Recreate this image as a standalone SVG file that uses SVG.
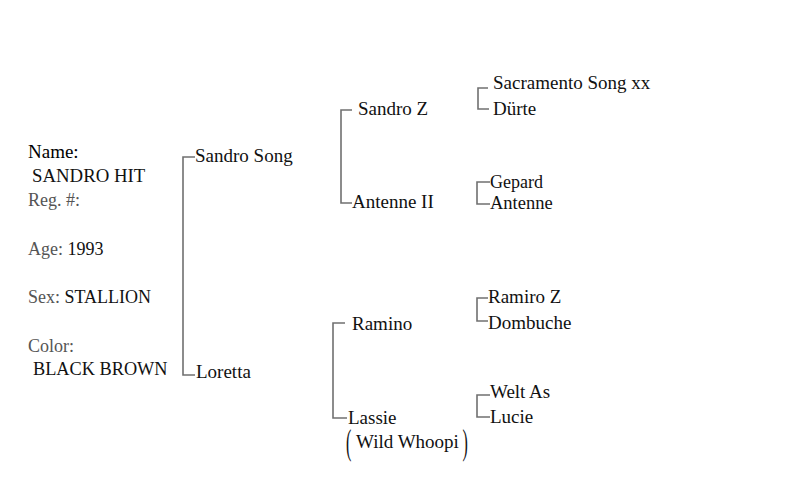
<svg xmlns="http://www.w3.org/2000/svg" width="808" height="491" viewBox="0 0 808 491">
<style>
text{font-family:"Liberation Serif","Times New Roman",serif;fill:#111}
.n{font-size:19px}
.s{font-size:18px}
.l{font-size:18px}
.g{fill:#555}
.p{font-size:20px;font-weight:normal}
.c{fill:none;stroke:#707070;stroke-width:1.6}
</style>
<rect width="808" height="491" fill="#fff"/>
<g id="info">
<text x="28" y="158" style="font-size:19px;fill:#000">Name:</text>
<text class="l" x="32" y="182" style="font-size:18.8px">SANDRO HIT</text>
<text class="l g" x="28" y="206">Reg. #:</text>
<text class="l" x="28" y="255"><tspan class="g">Age:</tspan> 1993</text>
<text class="l" x="28" y="303"><tspan class="g">Sex:</tspan> STALLION</text>
<text class="l g" x="28" y="352">Color:</text>
<text class="l" x="33" y="375" style="font-size:18.3px">BLACK BROWN</text>
</g>
<g id="connectors">
<path class="c" d="M195,157H183V375H195"/>
<path class="c" d="M352,110H341V203H352"/>
<path class="c" d="M488,88H478V109H489"/>
<path class="c" d="M490,182H477V204H490"/>
<path class="c" d="M345,323H333V418H347"/>
<path class="c" d="M488,298H477V321H488"/>
<path class="c" d="M490,395H477V417H490"/>
</g>
<g id="sandro-song"><text class="n" x="195" y="162">Sandro Song</text></g>
<g id="loretta"><text class="n" x="196" y="378">Loretta</text></g>
<g id="sandro-z"><text class="n" x="358" y="115">Sandro Z</text></g>
<g id="antenne-ii"><text class="n" x="352" y="208">Antenne II</text></g>
<g id="ramino"><text class="n" x="352" y="330">Ramino</text></g>
<g id="lassie">
<text class="n" x="348" y="424">Lassie</text>
<text class="n" x="356" y="448">Wild Whoopi</text>
<text class="p" transform="scale(0.8,1.75)" x="432.5" y="259.4">(</text>
<text class="p" transform="scale(0.8,1.75)" x="578" y="259.4">)</text>
</g>
<g id="sacramento-song"><text class="n" x="493" y="89">Sacramento Song xx</text></g>
<g id="duerte"><text class="n" x="493" y="115">Dürte</text></g>
<g id="gepard"><text class="s" x="490" y="188">Gepard</text></g>
<g id="antenne"><text class="s" x="490" y="209" style="font-size:18.5px">Antenne</text></g>
<g id="ramiro-z"><text class="n" x="488" y="303">Ramiro Z</text></g>
<g id="dombuche"><text class="n" x="488" y="329">Dombuche</text></g>
<g id="welt-as"><text class="n" x="490" y="398">Welt As</text></g>
<g id="lucie"><text class="n" x="490" y="423">Lucie</text></g>
</svg>
